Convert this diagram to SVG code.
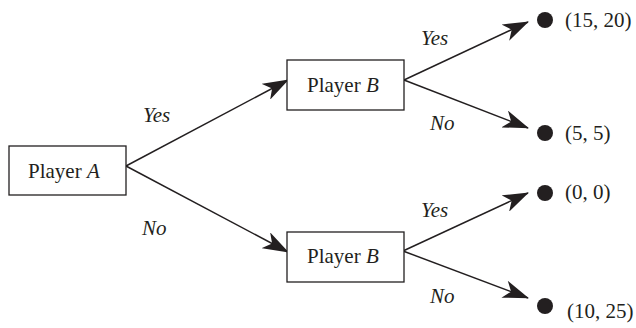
<svg xmlns="http://www.w3.org/2000/svg" width="636" height="328" viewBox="0 0 636 328">
<defs>
<style>
text{font-family:"Liberation Serif","Times New Roman",serif;font-size:21px;fill:#231f20}
.lbl{font-style:italic}
.box{fill:#fff;stroke:#231f20;stroke-width:1.3}
.edge{stroke:#231f20;stroke-width:1.5;fill:none;marker-end:url(#ah)}
.dot{fill:#231f20}
</style>
<marker id="ah" viewBox="0 0 26 18" refX="25" refY="9" markerWidth="26" markerHeight="18" markerUnits="userSpaceOnUse" orient="auto">
<path d="M0,0 L26,9 L0,18 L7,9 z" fill="#231f20"/>
</marker>
</defs>
<g id="connectors">
<line class="edge" x1="126" y1="166" x2="288" y2="80"/>
<line class="edge" x1="126" y1="166" x2="288" y2="252"/>
<line class="edge" x1="404" y1="80" x2="528" y2="22"/>
<line class="edge" x1="404" y1="80" x2="528" y2="128"/>
<line class="edge" x1="403" y1="251" x2="528" y2="193"/>
<line class="edge" x1="403" y1="251" x2="528" y2="298"/>
<text class="lbl" x="143" y="122">Yes</text>
<text class="lbl" x="142" y="235">No</text>
<text class="lbl" x="421" y="45">Yes</text>
<text class="lbl" x="430" y="130">No</text>
<text class="lbl" x="421" y="217">Yes</text>
<text class="lbl" x="430" y="303">No</text>
</g>
<g id="playerA">
<rect class="box" x="9" y="146" width="117" height="49"/>
<text x="28" y="178">Player <tspan class="lbl">A</tspan></text>
</g>
<g id="playerB1">
<rect class="box" x="287" y="60" width="117" height="50"/>
<text x="307" y="92">Player <tspan class="lbl">B</tspan></text>
</g>
<g id="playerB2">
<rect class="box" x="287" y="232" width="117" height="50"/>
<text x="307" y="263">Player <tspan class="lbl">B</tspan></text>
</g>
<g id="out1"><circle class="dot" cx="545" cy="20" r="8"/><text x="565" y="27">(15, 20)</text></g>
<g id="out2"><circle class="dot" cx="545" cy="133" r="8"/><text x="565" y="140">(5, 5)</text></g>
<g id="out3"><circle class="dot" cx="545" cy="193" r="8"/><text x="565" y="199">(0, 0)</text></g>
<g id="out4"><circle class="dot" cx="545" cy="306" r="8"/><text x="567" y="318">(10, 25)</text></g>
</svg>
